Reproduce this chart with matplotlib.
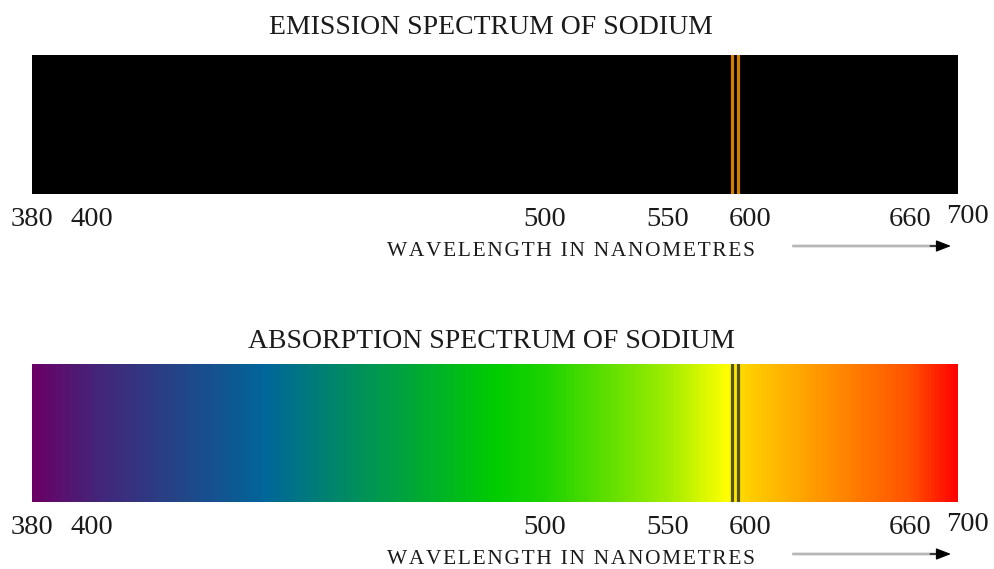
import numpy as np
import matplotlib
matplotlib.use('Agg')
import matplotlib.pyplot as plt
from matplotlib.colors import LinearSegmentedColormap

# Données
tick_nm = [380, 400, 500, 550, 600, 660, 700]
sodium_lines = [589, 593]
spec_min, spec_max = 380, 700

# couleurs du spectre (nm -> couleur)
stop_nm = [380, 438, 489, 587, 595, 700]
stop_colors = ['#6a0066', '#006699', '#00cc00', '#ffff00', '#ffd800', '#ff0000']

# position des graduations sur la bande (échelle non linéaire du dessin)
tick_pos = [0.0, 0.0648, 0.554, 0.686, 0.775, 0.948, 1.0]

fwd = lambda x: np.interp(x, tick_nm, tick_pos)
inv = lambda u: np.interp(u, tick_pos, tick_nm)

serif = ['Liberation Serif', 'DejaVu Serif']
plt.rcParams['font.family'] = serif

cmap = LinearSegmentedColormap.from_list(
    'spectre', [((n - spec_min) / (spec_max - spec_min), c) for n, c in zip(stop_nm, stop_colors)])

fig = plt.figure(figsize=(9.95, 5.69), dpi=100)
ax1 = fig.add_axes([32/995, 1 - 194/569, 926/995, 139/569])
ax2 = fig.add_axes([32/995, 1 - 502/569, 926/995, 138/569])

label_x = '\u200a'.join('WAVELENGTH IN NANOMETRES')


def panneau(ax, titre, emission, dy_titre):
    ax.set_xscale('function', functions=(fwd, inv))
    ax.set_xlim(spec_min, spec_max)
    ax.set_ylim(0, 1)
    ax.set_axis_off()

    if emission:
        ax.axvspan(spec_min, spec_max, color='black', lw=0)
        line_col = '#d27d00'
    else:
        x = np.linspace(spec_min, spec_max, 801)
        c = (x[:-1] + x[1:]) / 2
        ax.pcolormesh(x, [0, 1], c[None, :], cmap=cmap, vmin=spec_min, vmax=spec_max,
                      shading='flat', rasterized=True)
        line_col = '#55551a'
    for w in sodium_lines:
        ax.axvline(w, color=line_col, lw=2.3)

    ax.annotate(titre, xy=(0.4957, 1), xycoords='axes fraction', xytext=(0, dy_titre),
                textcoords='offset points', ha='center', va='center', fontsize=20,
                color='#1a1a1a')

    for t in tick_nm:
        dx, dy = (7, 2) if t == 700 else (0, 0)
        ax.annotate(str(t), xy=(t, 0), xycoords=('data', 'axes fraction'),
                    xytext=(dx, -18 + dy), textcoords='offset points',
                    ha='center', va='center', fontsize=20.5, color='#1a1a1a')

    ax.annotate(label_x, xy=(0.582, 0), xycoords='axes fraction',
                xytext=(0, -41.5), textcoords='offset points', ha='center', va='center',
                fontsize=15.4, color='#1a1a1a')

    # flèche : tige grise, pointe noire
    y = -52 / (ax.bbox.height)
    ax.annotate('', xy=(0.975, y), xycoords='axes fraction', xytext=(0.822, y),
                textcoords='axes fraction',
                arrowprops=dict(arrowstyle='-', color='#b8b8b8', lw=2, shrinkA=0, shrinkB=0),
                annotation_clip=False)
    ax.annotate('', xy=(0.9924, y), xycoords='axes fraction', xytext=(0.97, y),
                textcoords='axes fraction',
                arrowprops=dict(arrowstyle='-|>,head_length=0.9,head_width=0.35', color='black',
                                lw=1, shrinkA=0, shrinkB=0),
                annotation_clip=False)


panneau(ax1, 'EMISSION SPECTRUM OF SODIUM', True, 20)
panneau(ax2, 'ABSORPTION SPECTRUM OF SODIUM', False, 16)

fig.savefig('out.png', dpi=100, facecolor='white')
